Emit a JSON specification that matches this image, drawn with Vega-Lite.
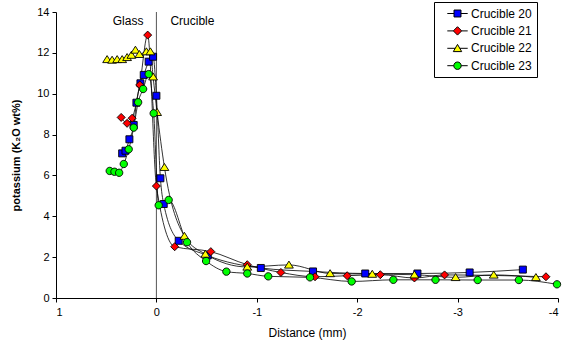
{
  "$schema": "https://vega.github.io/schema/vega-lite/v6.json",
  "width": 502,
  "height": 286,
  "autosize": "none",
  "padding": {"left": 56, "top": 12, "right": 10, "bottom": 49},
  "background": "white",
  "config": {
    "view": {"stroke": null},
    "font": "Liberation Sans",
    "axis": {
      "grid": false,
      "domainColor": "black",
      "tickColor": "black",
      "labelColor": "black",
      "titleColor": "black",
      "labelFont": "Liberation Sans",
      "titleFont": "Liberation Sans",
      "labelFontSize": 11,
      "titleFontSize": 11,
      "tickSize": 4,
      "domainWidth": 1,
      "tickWidth": 1
    },
    "legend": {
      "orient": "none",
      "legendX": 378,
      "legendY": -10,
      "strokeColor": "black",
      "strokeWidth": 1,
      "fillColor": "white",
      "padding": 5,
      "labelFont": "Liberation Sans",
      "labelFontSize": 12,
      "labelColor": "black",
      "symbolSize": 144,
      "symbolOffset": 12,
      "labelOffset": 7,
      "rowPadding": 4.4,
      "symbolStrokeColor": "black",
      "symbolStrokeWidth": 1,
      "symbolOpacity": 1
    }
  },
  "datasets": {
    "pts": [
      {"s": "Crucible 20", "x": 0.341, "y": 7.08},
      {"s": "Crucible 20", "x": 0.308, "y": 7.21},
      {"s": "Crucible 20", "x": 0.269, "y": 7.77},
      {"s": "Crucible 20", "x": 0.226, "y": 8.47},
      {"s": "Crucible 20", "x": 0.199, "y": 9.56},
      {"s": "Crucible 20", "x": 0.159, "y": 10.51},
      {"s": "Crucible 20", "x": 0.126, "y": 10.92},
      {"s": "Crucible 20", "x": 0.077, "y": 11.57},
      {"s": "Crucible 20", "x": 0.033, "y": 11.81},
      {"s": "Crucible 20", "x": 0.0, "y": 9.9},
      {"s": "Crucible 20", "x": -0.04, "y": 5.86},
      {"s": "Crucible 20", "x": -0.073, "y": 4.6},
      {"s": "Crucible 20", "x": -0.222, "y": 2.8},
      {"s": "Crucible 20", "x": -0.511, "y": 2.08},
      {"s": "Crucible 20", "x": -1.04, "y": 1.47},
      {"s": "Crucible 20", "x": -1.56, "y": 1.3},
      {"s": "Crucible 20", "x": -2.08, "y": 1.2},
      {"s": "Crucible 20", "x": -2.6, "y": 1.2},
      {"s": "Crucible 20", "x": -3.12, "y": 1.25},
      {"s": "Crucible 20", "x": -3.65, "y": 1.39},
      {"s": "Crucible 21", "x": 0.351, "y": 8.84},
      {"s": "Crucible 21", "x": 0.292, "y": 8.55},
      {"s": "Crucible 21", "x": 0.242, "y": 8.8},
      {"s": "Crucible 21", "x": 0.166, "y": 10.43},
      {"s": "Crucible 21", "x": 0.087, "y": 12.87},
      {"s": "Crucible 21", "x": 0.0, "y": 5.48},
      {"s": "Crucible 21", "x": -0.182, "y": 2.51},
      {"s": "Crucible 21", "x": -0.542, "y": 2.27},
      {"s": "Crucible 21", "x": -0.905, "y": 1.63},
      {"s": "Crucible 21", "x": -1.24, "y": 1.25},
      {"s": "Crucible 21", "x": -1.58, "y": 1.04},
      {"s": "Crucible 21", "x": -1.9, "y": 1.09},
      {"s": "Crucible 21", "x": -2.23, "y": 1.14},
      {"s": "Crucible 21", "x": -2.57, "y": 0.98},
      {"s": "Crucible 21", "x": -2.87, "y": 1.13},
      {"s": "Crucible 21", "x": -3.88, "y": 1.04},
      {"s": "Crucible 22", "x": 0.491, "y": 11.68},
      {"s": "Crucible 22", "x": 0.441, "y": 11.65},
      {"s": "Crucible 22", "x": 0.391, "y": 11.68},
      {"s": "Crucible 22", "x": 0.341, "y": 11.68},
      {"s": "Crucible 22", "x": 0.292, "y": 11.78},
      {"s": "Crucible 22", "x": 0.249, "y": 11.89},
      {"s": "Crucible 22", "x": 0.209, "y": 12.14},
      {"s": "Crucible 22", "x": 0.169, "y": 11.93},
      {"s": "Crucible 22", "x": 0.1, "y": 12.06},
      {"s": "Crucible 22", "x": 0.06, "y": 12.06},
      {"s": "Crucible 22", "x": 0.033, "y": 10.83},
      {"s": "Crucible 22", "x": -0.007, "y": 9.09},
      {"s": "Crucible 22", "x": -0.08, "y": 6.4},
      {"s": "Crucible 22", "x": -0.279, "y": 3.03},
      {"s": "Crucible 22", "x": -0.488, "y": 2.15},
      {"s": "Crucible 22", "x": -0.905, "y": 1.52},
      {"s": "Crucible 22", "x": -1.32, "y": 1.62},
      {"s": "Crucible 22", "x": -1.73, "y": 1.2},
      {"s": "Crucible 22", "x": -2.15, "y": 1.17},
      {"s": "Crucible 22", "x": -2.57, "y": 1.14},
      {"s": "Crucible 22", "x": -2.98, "y": 1.01},
      {"s": "Crucible 22", "x": -3.36, "y": 1.13},
      {"s": "Crucible 22", "x": -3.78, "y": 1.01},
      {"s": "Crucible 23", "x": 0.465, "y": 6.22},
      {"s": "Crucible 23", "x": 0.418, "y": 6.18},
      {"s": "Crucible 23", "x": 0.371, "y": 6.13},
      {"s": "Crucible 23", "x": 0.325, "y": 6.56},
      {"s": "Crucible 23", "x": 0.276, "y": 7.28},
      {"s": "Crucible 23", "x": 0.226, "y": 8.34},
      {"s": "Crucible 23", "x": 0.182, "y": 9.58},
      {"s": "Crucible 23", "x": 0.132, "y": 10.23},
      {"s": "Crucible 23", "x": 0.077, "y": 10.96},
      {"s": "Crucible 23", "x": 0.027, "y": 9.04},
      {"s": "Crucible 23", "x": -0.023, "y": 4.54},
      {"s": "Crucible 23", "x": -0.122, "y": 4.8},
      {"s": "Crucible 23", "x": -0.305, "y": 2.73},
      {"s": "Crucible 23", "x": -0.495, "y": 1.81},
      {"s": "Crucible 23", "x": -0.697, "y": 1.29},
      {"s": "Crucible 23", "x": -0.905, "y": 1.2},
      {"s": "Crucible 23", "x": -1.114, "y": 1.06},
      {"s": "Crucible 23", "x": -1.53, "y": 1.01},
      {"s": "Crucible 23", "x": -1.945, "y": 0.81},
      {"s": "Crucible 23", "x": -2.36, "y": 0.89},
      {"s": "Crucible 23", "x": -2.78, "y": 0.89},
      {"s": "Crucible 23", "x": -3.2, "y": 0.88},
      {"s": "Crucible 23", "x": -3.61, "y": 0.88},
      {"s": "Crucible 23", "x": -3.99, "y": 0.67}
    ],
    "labels": [
      {"t": "Glass", "side": "left"},
      {"t": "Crucible", "side": "right"}
    ]
  },
  "layer": [
    {
      "data": {"values": [{"v": 0}]},
      "mark": {"type": "rule", "color": "#555555", "strokeWidth": 1},
      "encoding": {
        "x": {"field": "v", "type": "quantitative", "scale": {"domain": [-4, 1], "reverse": true}}
      }
    },
    {
      "data": {"name": "pts"},
      "mark": {"type": "line", "color": "black", "strokeWidth": 0.8, "interpolate": "monotone"},
      "encoding": {
        "x": {
          "field": "x", "type": "quantitative",
          "scale": {"domain": [-4, 1], "reverse": true},
          "axis": {"values": [1, 0, -1, -2, -3, -4], "labelExpr": "'' + datum.value", "title": "Distance (mm)", "titleFontSize": 12, "titleFontWeight": "normal", "labelPadding": 4, "titlePadding": 10}
        },
        "y": {
          "field": "y", "type": "quantitative",
          "scale": {"domain": [0, 14]},
          "axis": {"values": [0, 2, 4, 6, 8, 10, 12, 14], "title": "potassium (K₂O wt%)", "titleFontWeight": "bold", "titleFontSize": 11, "titlePadding": 15, "labelPadding": 3}
        },
        "detail": {"field": "s", "type": "nominal"},
        "order": {"field": "x", "sort": "descending"}
      }
    },
    {
      "data": {"name": "pts"},
      "mark": {"type": "point", "filled": true, "stroke": "black", "strokeWidth": 0.9, "opacity": 1, "size": 64},
      "encoding": {
        "x": {"field": "x", "type": "quantitative"},
        "y": {"field": "y", "type": "quantitative"},
        "shape": {
          "field": "s", "type": "nominal", "legend": null,
          "scale": {
            "domain": ["Crucible 20", "Crucible 21", "Crucible 22", "Crucible 23"],
            "range": [
              "M-0.875,-0.875H0.875V0.875H-0.875Z",
              "M0,-1L1,0L0,1L-1,0Z",
              "M0,-0.95L1.1,0.8L-1.1,0.8Z",
              "M-0.92,0A0.92,0.92,0,1,0,0.92,0A0.92,0.92,0,1,0,-0.92,0Z"
            ]
          }
        },
        "fill": {
          "field": "s", "type": "nominal", "legend": null,
          "scale": {
            "domain": ["Crucible 20", "Crucible 21", "Crucible 22", "Crucible 23"],
            "range": ["#0000FF", "#FF0000", "#FFFF00", "#00FF00"]
          }
        }
      }
    },
    {
      "data": {"name": "pts"},
      "transform": [{"filter": "false"}],
      "mark": {"type": "point", "filled": true, "stroke": "black", "strokeWidth": 1, "opacity": 1},
      "encoding": {
        "x": {"field": "x", "type": "quantitative"},
        "y": {"field": "y", "type": "quantitative"},
        "shape": {
          "field": "s", "type": "nominal",
          "legend": {"title": null, "encode": {"symbols": {"update": {"stroke": {"value": "black"}, "strokeWidth": {"value": 1}, "opacity": {"value": 1}}}}},
          "scale": {
            "domain": ["Crucible 20", "Crucible 21", "Crucible 22", "Crucible 23"],
            "range": [
              "M-1.7,0H-0.58M0.58,0H1.7M-0.58,-0.58H0.58V0.58H-0.58Z",
              "M-1.7,0H-0.7M0.7,0H1.7M0,-0.7L0.7,0L0,0.7L-0.7,0Z",
              "M-1.7,0H-0.38M0.38,0H1.7M0,-0.65L0.7,0.55L-0.7,0.55Z",
              "M-1.7,0H-0.62M0.62,0H1.7M-0.62,0A0.62,0.62,0,1,0,0.62,0A0.62,0.62,0,1,0,-0.62,0Z"
            ]
          }
        },
        "fill": {
          "field": "s", "type": "nominal",
          "legend": {"title": null, "encode": {"symbols": {"update": {"stroke": {"value": "black"}, "strokeWidth": {"value": 1}, "opacity": {"value": 1}}}}},
          "scale": {
            "domain": ["Crucible 20", "Crucible 21", "Crucible 22", "Crucible 23"],
            "range": ["#0000FF", "#FF0000", "#FFFF00", "#00FF00"]
          }
        }
      }
    },
    {
      "data": {"name": "labels"},
      "transform": [{"filter": "datum.side == 'left'"}],
      "mark": {"type": "text", "align": "right", "baseline": "middle", "dx": -13, "fontSize": 12, "font": "Liberation Sans", "color": "black"},
      "encoding": {
        "x": {"datum": 0, "type": "quantitative"},
        "y": {"datum": 13.57, "type": "quantitative"},
        "text": {"field": "t"}
      }
    },
    {
      "data": {"name": "labels"},
      "transform": [{"filter": "datum.side == 'right'"}],
      "mark": {"type": "text", "align": "left", "baseline": "middle", "dx": 14, "fontSize": 12, "font": "Liberation Sans", "color": "black"},
      "encoding": {
        "x": {"datum": 0, "type": "quantitative"},
        "y": {"datum": 13.57, "type": "quantitative"},
        "text": {"field": "t"}
      }
    }
  ],
  "resolve": {"scale": {"shape": "independent", "fill": "independent"}}
}
